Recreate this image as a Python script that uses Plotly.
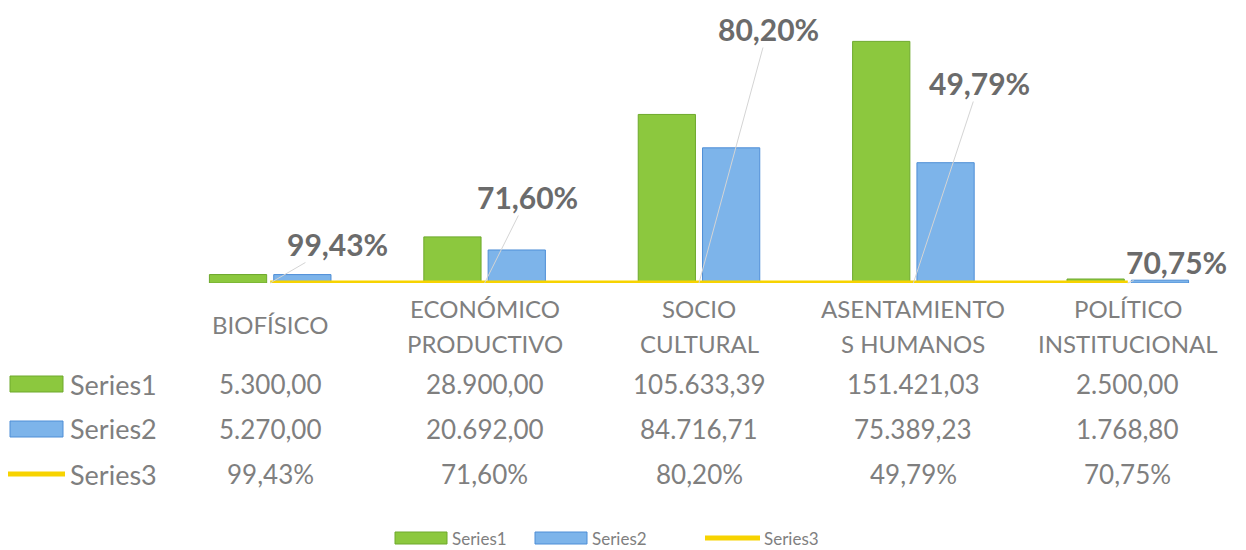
import plotly.graph_objects as go

categories = ["BIOFÍSICO", "ECONÓMICO PRODUCTIVO", "SOCIO CULTURAL",
              "ASENTAMIENTOS HUMANOS", "POLÍTICO INSTITUCIONAL"]
tick_lines = [["BIOFÍSICO"], ["ECONÓMICO", "PRODUCTIVO"], ["SOCIO", "CULTURAL"],
              ["ASENTAMIENTO", "S HUMANOS"], ["POLÍTICO", "INSTITUCIONAL"]]
series1 = [5300.00, 28900.00, 105633.39, 151421.03, 2500.00]
series2 = [5270.00, 20692.00, 84716.71, 75389.23, 1768.80]
series3 = [0.9943, 0.7160, 0.8020, 0.4979, 0.7075]
series_names = ["Series1", "Series2", "Series3"]

# label offsets (pixels) for the percentage callouts
label_dx = [67, 43, 69, 66, 49]
label_dy = [-39, -86, -254, -200, -21]

GREEN = "#8CC83E"
GREEN_LINE = "#6EA92C"
BLUE = "#7DB4EA"
BLUE_LINE = "#4E8ED6"
YELLOW = "#F7D300"
GRAY = "#7F7F7F"
DARK = "#6B6B6B"
FONT = "Lato"

# page offset (default body margin) and plot area geometry (page pixels)
OFF = 8
W, H = 1246 - OFF, 550 - OFF
L, R, T, B0 = 163, 1235, 10, 283
PH = B0 - T
PW = R - L


def py(p):
    return (B0 - p) / PH


def px(p):
    return (p - L) / PW


def fmt_num(v):
    s = f"{v:,.2f}"
    return s.replace(",", "X").replace(".", ",").replace("X", ".")


def fmt_pct(v):
    return f"{v * 100:.2f}%".replace(".", ",")


fig = go.Figure()
fig.add_trace(go.Bar(x=categories, y=series1, name=series_names[0],
                     marker=dict(color=GREEN, line=dict(color=GREEN_LINE, width=1))))
fig.add_trace(go.Bar(x=categories, y=series2, name=series_names[1],
                     marker=dict(color=BLUE, line=dict(color=BLUE_LINE, width=1))))
fig.add_trace(go.Scatter(x=categories, y=series3, name=series_names[2], mode="lines",
                         line=dict(color=YELLOW, width=5)))

ann = []
# percentage callouts with leader lines
for c, v, dx, dy in zip(categories, series3, label_dx, label_dy):
    ann.append(dict(x=c, y=v, xref="x", yref="y", text="<b>" + fmt_pct(v) + "</b>",
                    showarrow=True, arrowhead=0, arrowwidth=1, arrowcolor="#D4D4D4",
                    standoff=0, ax=dx, ay=dy, borderpad=0,
                    font=dict(family=FONT, size=30, color=DARK)))
# category labels (data table header)
for c, lines in zip(categories, tick_lines):
    ys = [324] if len(lines) == 1 else [308, 343]
    for t, yy in zip(lines, ys):
        ann.append(dict(x=c, y=py(yy), xref="x", yref="paper", text=t, showarrow=False,
                        yanchor="middle", font=dict(family=FONT, size=24, color=GRAY)))
# data table rows
rows = [(series1, fmt_num, 384), (series2, fmt_num, 429), (series3, fmt_pct, 474)]
for (vals, f, yy), name in zip(rows, series_names):
    for c, v in zip(categories, vals):
        ann.append(dict(x=c, y=py(yy), xref="x", yref="paper", text=f(v), showarrow=False,
                        yanchor="middle", font=dict(family=FONT, size=26, color=GRAY)))
    ann.append(dict(x=px(68), y=py(yy), xref="paper", yref="paper", text=name,
                    showarrow=False, xanchor="left", yanchor="middle",
                    font=dict(family=FONT, size=27, color=GRAY)))

shapes = [
    dict(type="rect", xref="paper", yref="paper", x0=px(10), x1=px(63), y0=py(392), y1=py(376),
         fillcolor=GREEN, line=dict(color=GREEN_LINE, width=1)),
    dict(type="rect", xref="paper", yref="paper", x0=px(10), x1=px(63), y0=py(437), y1=py(421),
         fillcolor=BLUE, line=dict(color=BLUE_LINE, width=1)),
    dict(type="line", xref="paper", yref="paper", x0=px(8), x1=px(65), y0=py(474), y1=py(474),
         line=dict(color=YELLOW, width=5)),
]

# bottom legend (drawn as keys + labels)
leg_y = 538
leg_keys = [("rect", GREEN, GREEN_LINE, 395, 447, 450),
            ("rect", BLUE, BLUE_LINE, 535, 587, 590),
            ("line", YELLOW, YELLOW, 705, 760, 762)]
for (kind, fc, lc, x0, x1, tx), name in zip(leg_keys, series_names):
    if kind == "rect":
        shapes.append(dict(type="rect", xref="paper", yref="paper", x0=px(x0), x1=px(x1),
                           y0=py(leg_y + 6), y1=py(leg_y - 6), fillcolor=fc,
                           line=dict(color=lc, width=1)))
    else:
        shapes.append(dict(type="line", xref="paper", yref="paper", x0=px(x0), x1=px(x1),
                           y0=py(leg_y), y1=py(leg_y), line=dict(color=fc, width=5)))
    ann.append(dict(x=px(tx), y=py(leg_y), xref="paper", yref="paper", text=name,
                    showarrow=False, xanchor="left", yanchor="middle",
                    font=dict(family=FONT, size=17, color=GRAY)))

fig.update_layout(
    width=W, height=H,
    margin=dict(l=L - OFF, r=W + OFF - R, t=T - OFF, b=H + OFF - B0, autoexpand=False),
    paper_bgcolor="white", plot_bgcolor="white",
    barmode="group", bargap=0.40, bargroupgap=0.11,
    xaxis=dict(showticklabels=False, showgrid=False, zeroline=False, showline=False, ticks=""),
    yaxis=dict(range=[0, PH * 626.7], visible=False),
    showlegend=False,
    annotations=ann, shapes=shapes,
)

fig.write_html("out.html")
